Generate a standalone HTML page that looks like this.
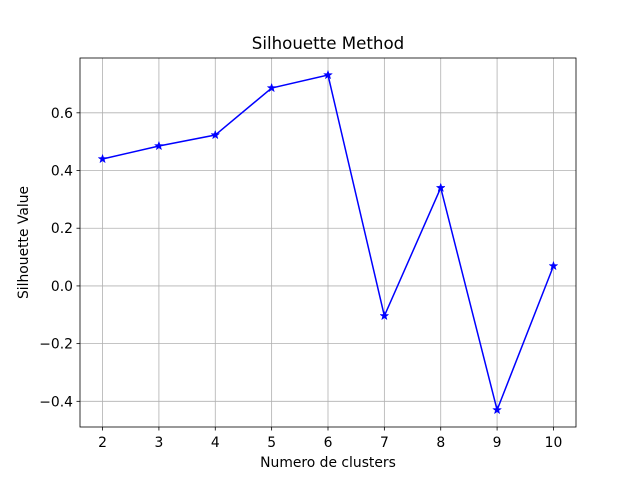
<!DOCTYPE html>
<html><head><meta charset="utf-8"><style>
body{margin:0;background:#fff;}
svg{display:block;font-family:"DejaVu Sans","Liberation Sans",sans-serif;}
</style></head><body>
<svg id="chart" width="640" height="480">
<rect width="640" height="480" fill="#fff"/>
<text x="328" y="49" font-size="16.67" text-anchor="middle">Silhouette Method</text>
<text x="328" y="467" font-size="13.89" text-anchor="middle">Numero de clusters</text>
<text transform="translate(28,242.5) rotate(-90)" font-size="13.89" text-anchor="middle">Silhouette Value</text>
<g id="grid"></g><g id="ticks"></g><g id="series"></g>
<rect x="80" y="58" width="496" height="369" fill="none" stroke="#000" stroke-width="0.8"/>
</svg>
<script>
const clusters=[2,3,4,5,6,7,8,9,10];
const silhouette=[0.440,0.485,0.523,0.686,0.731,-0.104,0.340,-0.430,0.069];
const yTicks=[-0.4,-0.2,0.0,0.2,0.4,0.6];
const yTickLabels=["\u22120.4","\u22120.2","0.0","0.2","0.4","0.6"];
const X0=80,X1=576,Y0=58,Y1=427;
const xMin=1.6,xMax=10.4,yMin=-0.489,yMax=0.790;
function sx(v){return X0+(v-xMin)/(xMax-xMin)*(X1-X0);}
function sy(v){return Y1-(v-yMin)/(yMax-yMin)*(Y1-Y0);}
const NS="http://www.w3.org/2000/svg";
function mk(t,a,p){const e=document.createElementNS(NS,t);for(const k in a)e.setAttribute(k,a[k]);p.appendChild(e);return e;}
const grid=document.getElementById('grid'),ticks=document.getElementById('ticks'),ser=document.getElementById('series');
clusters.forEach(c=>{const x=sx(c);
const g=mk('line',{x1:x,x2:x,y1:Y0,y2:Y1,stroke:'#b0b0b0','stroke-width':0.8},grid);


mk('line',{x1:x,x2:x,y1:Y1,y2:Y1+3.5,stroke:'#000','stroke-width':0.8},ticks);
const t=mk('text',{x:x,y:Y1+20,'font-size':13.89,'text-anchor':'middle'},ticks);t.textContent=c;


});
yTicks.forEach((v,i)=>{const y=sy(v);
const g=mk('line',{x1:X0,x2:X1,y1:y,y2:y,stroke:'#b0b0b0','stroke-width':0.8},grid);


mk('line',{x1:X0-3.5,x2:X0,y1:y,y2:y,stroke:'#000','stroke-width':0.8},ticks);
const t=mk('text',{x:X0-7,y:y+5,'font-size':13.89,'text-anchor':'end'},ticks);t.textContent=yTickLabels[i];


});
const pts=clusters.map((c,i)=>sx(c)+','+sy(silhouette[i])).join(' ');
const pl=mk('polyline',{points:pts,fill:'none',stroke:'#0000ff','stroke-width':1.5},ser);


function star(cx,cy,r){let p=[];for(let k=0;k<10;k++){const rr=k%2?r*0.4:r;const a=-Math.PI/2+k*Math.PI/5;p.push((cx+rr*Math.cos(a)).toFixed(2)+','+(cy+rr*Math.sin(a)).toFixed(2));}return p.join(' ');}
clusters.forEach((c,i)=>{const s=mk('polygon',{points:star(sx(c),sy(silhouette[i]),4.5),fill:'#0000ff',stroke:'#0000ff','stroke-width':0.5},ser);


});
</script>
</body></html>
